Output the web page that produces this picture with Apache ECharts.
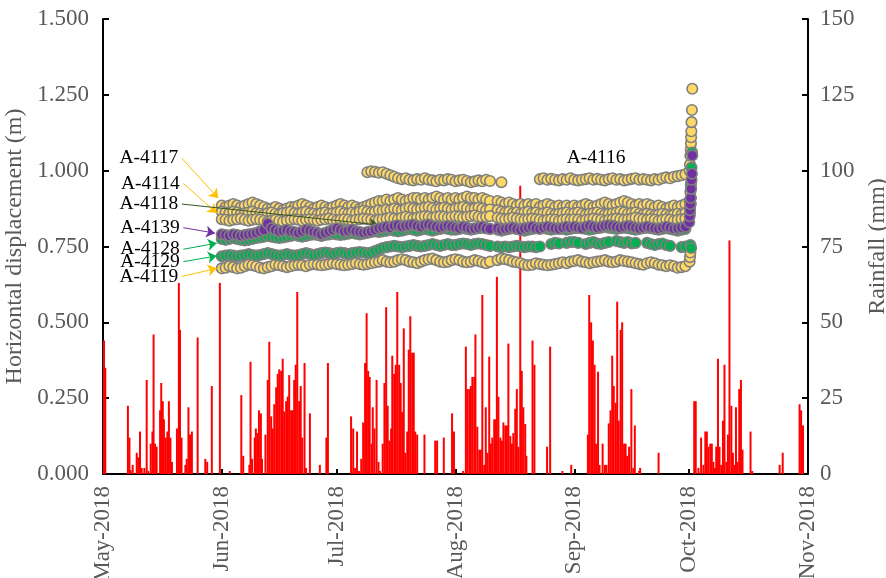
<!DOCTYPE html>
<html><head><meta charset="utf-8">
<script src="https://cdn.jsdelivr.net/npm/echarts@6/dist/echarts.min.js"></script>
<style>html,body{margin:0;padding:0;background:#fff}#c{width:886px;height:578px}</style>
</head><body><div id="c"></div>
<script>
// ---------- axis labels (x = days since 1 May 2018) ----------
const tickDays = [0, 31, 61, 92, 123, 153, 184];
const tickLabels = ['May-2018','Jun-2018','Jul-2018','Aug-2018','Sep-2018','Oct-2018','Nov-2018'];
const leftTicks = [0, 0.25, 0.5, 0.75, 1.0, 1.25, 1.5];
const rightTicks = [0, 25, 50, 75, 100, 125, 150];

// ---------- rainfall (day offset from 1 May 2018, mm) ----------
const rainDay = [0.26,0.6,6.5,6.9,7.2,7.75,8.8,9.2,9.66,10.1,10.8,11.4,11.8,12.45,12.9,13.2,13.6,14.0,14.9,15.2,15.6,15.9,16.4,16.8,17.2,17.6,18.0,19.3,19.8,20.1,20.5,21.5,21.85,22.3,22.7,23.2,24.7,26.7,27.2,28.4,30.5,
33.1,36.1,36.6,38.2,38.5,38.9,39.6,39.9,40.3,40.7,41.2,41.5,42.4,43.0,43.4,43.9,44.3,44.7,45.2,45.6,46.0,46.5,46.9,47.3,47.8,48.2,48.6,49.1,49.5,49.9,50.3,50.7,51.2,51.6,52.0,52.6,53.0,54.0,56.6,58.3,58.7,
64.75,65.3,65.8,66.3,66.8,67.4,67.9,68.4,68.8,69.2,69.6,70.1,70.4,70.85,71.4,71.9,72.3,73.0,73.45,73.9,74.3,74.75,75.2,75.5,76.0,76.4,76.8,77.3,77.7,78.1,78.5,78.9,79.4,79.8,80.2,80.7,81.1,81.5,82.0,83.9,86.7,87.2,88.95,91.1,91.6,
94.0,94.7,95.1,95.6,96.0,96.4,96.9,97.2,97.7,98.2,98.6,99.0,99.5,99.9,100.3,100.8,101.2,101.6,102.1,102.4,102.8,103.2,103.7,104.1,104.5,105.0,105.4,105.8,106.3,106.7,107.1,107.6,108.0,108.4,108.9,109.3,109.7,110.2,110.5,112.1,112.6,115.9,116.7,119.9,122.2,
126.55,126.9,127.4,127.85,128.3,128.7,129.2,129.6,130.4,131.0,131.4,132.0,132.45,132.9,133.3,133.8,134.2,134.6,135.1,135.5,136.0,136.4,136.8,137.3,137.9,138.4,138.8,139.9,140.2,145.0,
154.3,154.7,155.4,156.1,156.7,157.2,157.6,158.0,158.5,158.9,159.3,159.7,160.05,160.5,160.9,161.35,161.8,162.2,162.7,163.1,163.5,164.0,164.4,164.8,165.2,165.6,166.05,166.5,166.9,169.0,169.45,176.6,177.4,181.8,182.2,182.7];
const rainMm = [44,35,22.5,12,1.3,3,7,5.5,14,2,2,31,1,10,14,46,10,9,21,30,24,18,12,14,24,12,4,15,63,47.5,12,3,5,22,13,14,45,5,4,29,63,
1,26,6,3,37,5,12,15,13.5,21,20,5,13,31,43.6,19,15,23,28.6,33,34.5,34,38,20.6,24,25.5,32.6,21,21,31,36,60,24,29,12,36.6,2,20,3,12,36.6,
19,15,2,14,1,5,17,36.6,53,34,32,10,22,15,31,4,1,10,30,55,22.5,11,15,39,33,36,60,36,30,20.5,48,7,14,41,52,40,40,14,13,13,11,11,12,20,14,
1,42,28,28,29,32,32,46,15.6,8,8,59,3,22,7,38.7,10,12,18,18,65,25.5,12,11,17,16,16,43,12.5,10,13.5,21.5,28,9,95,34,22,16.5,6,44,36,9,42,1,3,
13,59,50,44,36,10,33.7,3,10,3,3,16.7,21,39,29,23.5,56.8,17.6,47.5,50,10,10,6,9,28,2,16,1,2,7,
24,24,2,12,3,14,14,9,10,10,4,2,9,38,9,3,17.6,36,4,13,77,22.5,7,3,22,4,28,31,8,14,1,3,7,23,21,16];

// ---------- displacement: daily readings 1 Jun (day 31) .. 30 Sep (day 152) ----------
const firstObsDay = 31;
const d4116 = [
null,null,null,null,null,null,null,null,null,null,null,null,null,null,null,null,null,null,null,null,null,null,null,null,null,null,null,null,null,null,
null,null,null,null,null,null,null,null,0.995,0.998,0.996,0.993,0.995,0.99,0.985,0.98,0.975,0.972,0.975,0.97,0.968,0.972,0.97,0.975,0.97,0.968,0.965,0.97,0.968,0.972,0.97,
0.965,0.968,0.97,0.966,0.962,0.965,0.968,0.965,0.97,0.966,null,null,0.962,null,null,null,null,null,null,null,null,null,0.972,0.975,0.97,0.973,0.97,0.968,0.972,0.97,0.975,
0.97,0.968,0.97,0.972,0.975,0.97,0.973,0.97,0.968,0.972,0.975,0.97,0.972,0.968,0.97,0.973,0.975,0.97,0.972,0.97,0.968,0.972,0.97,0.975,0.978,0.975,0.98,0.982,0.985,0.988];
const d4117 = [
0.885,0.88,0.885,0.89,0.885,0.88,0.885,0.89,0.895,0.89,0.885,0.88,0.875,0.875,0.88,0.875,0.87,0.875,0.88,0.88,0.885,0.89,0.885,0.88,0.875,0.88,0.885,0.88,0.875,0.88,
0.885,0.89,0.885,0.88,0.885,0.88,0.875,0.88,0.885,0.89,0.895,0.9,0.9,0.905,0.9,0.905,0.91,0.905,0.9,0.905,0.91,0.91,0.905,0.91,0.905,0.91,0.915,0.91,0.905,0.91,0.905,
0.91,0.905,0.91,0.915,0.91,0.91,0.905,0.91,0.905,0.9,null,0.9,0.895,0.89,0.895,0.89,0.885,0.89,0.885,0.89,0.885,0.89,0.88,0.885,0.89,0.885,0.88,0.885,0.88,0.885,0.88,
0.885,0.88,0.885,0.89,0.885,0.88,0.885,0.89,0.895,0.89,0.885,0.89,0.895,0.9,0.895,0.89,0.885,0.89,0.885,0.89,0.885,0.88,0.885,0.88,0.875,0.88,0.885,0.88,0.885,0.89];
const d4114 = [
0.865,0.862,0.86,0.865,0.862,0.858,0.86,0.862,0.865,0.86,0.858,0.855,0.86,0.862,0.858,0.855,0.86,0.862,0.865,0.86,0.858,0.862,0.865,0.86,0.858,0.855,0.86,0.862,0.858,0.86,
0.862,0.865,0.86,0.858,0.862,0.86,0.865,0.868,0.865,0.862,0.865,0.87,0.868,0.872,0.87,0.875,0.872,0.87,0.875,0.878,0.875,0.872,0.875,0.878,0.88,0.876,0.872,0.875,0.878,0.875,0.872,
0.875,0.878,0.88,0.876,0.872,0.875,0.878,0.875,0.87,0.872,null,0.87,0.865,0.862,0.865,0.86,0.862,0.858,0.862,0.865,0.86,0.862,0.858,0.86,0.862,0.858,0.855,0.858,0.86,0.862,0.858,
0.86,0.862,0.858,0.855,0.858,0.86,0.862,0.858,0.855,0.858,0.86,0.862,0.865,0.862,0.858,0.86,0.862,0.858,0.855,0.858,0.855,0.852,0.855,0.858,0.855,0.852,0.855,0.858,0.855,0.86];
const d4118 = [
0.84,0.838,0.835,0.838,0.84,0.842,0.838,0.835,0.838,0.84,0.838,0.835,0.832,0.835,0.838,0.835,0.832,0.835,0.838,0.84,0.838,0.835,0.838,0.84,0.838,0.835,0.838,0.84,0.842,0.838,
0.835,0.838,0.84,0.838,0.835,0.838,0.84,0.842,0.84,0.838,0.835,0.838,0.84,0.842,0.845,0.842,0.84,0.845,0.848,0.845,0.842,0.845,0.848,0.85,0.848,0.845,0.848,0.85,0.848,0.845,0.848,
0.85,0.848,0.845,0.848,0.85,0.852,0.848,0.845,0.848,0.85,null,0.845,0.842,0.84,0.842,0.845,0.842,0.84,0.838,0.84,0.842,0.84,0.838,0.835,0.838,0.84,0.838,0.835,0.838,0.84,0.838,
0.84,0.838,0.835,0.838,0.84,0.842,0.84,0.838,0.835,0.838,0.84,0.842,0.84,0.838,0.84,0.842,0.845,0.842,0.84,0.838,0.84,0.838,0.835,0.838,0.84,0.838,0.835,0.838,0.84,0.842];
const d4139 = [
0.79,0.788,0.786,0.79,0.788,0.785,0.788,0.79,0.792,0.795,0.80,0.805,0.825,0.81,0.805,0.80,0.802,0.805,0.80,0.798,0.795,0.80,0.805,0.802,0.798,0.795,0.79,0.795,0.80,0.805,
0.81,0.805,0.80,0.802,0.805,0.80,0.798,0.795,0.798,0.80,0.805,0.81,0.812,0.815,0.812,0.818,0.82,0.815,0.818,0.82,0.822,0.818,0.815,0.82,0.822,0.818,0.815,0.812,0.815,0.818,0.815,
0.812,0.81,0.815,0.812,0.808,0.81,0.812,0.815,0.81,0.808,null,0.81,0.805,0.808,0.81,0.812,0.808,0.805,0.81,0.812,0.815,0.81,0.808,0.812,0.815,0.812,0.81,0.808,0.812,0.815,0.812,
0.815,0.812,0.81,0.815,0.818,0.815,0.812,0.815,0.818,0.82,0.818,0.815,0.812,0.815,0.818,0.815,0.812,0.81,0.812,0.815,0.812,0.81,0.808,0.812,0.815,0.812,0.808,0.81,0.812,0.815];
const d4128 = [
0.775,0.772,0.775,0.778,0.775,0.772,0.77,0.772,0.775,0.778,0.78,0.782,0.785,0.782,0.78,0.778,0.78,0.782,0.785,0.788,0.785,0.782,0.785,0.788,0.79,0.788,0.785,0.788,0.79,0.792,
0.79,0.788,0.79,0.792,0.795,0.792,0.79,0.792,0.795,0.798,0.8,0.798,0.8,0.802,0.805,0.802,0.8,0.802,0.805,0.808,0.805,0.802,0.805,0.808,0.805,0.802,0.805,0.808,0.81,0.808,0.805,
0.805,0.808,0.81,0.808,0.805,0.808,0.81,0.812,0.81,0.808,null,0.805,0.802,0.805,0.808,0.81,0.808,0.805,0.802,0.805,0.808,0.81,0.812,0.81,0.808,0.805,0.808,0.81,0.808,0.805,0.808,
0.81,0.812,0.81,0.808,0.805,0.808,0.81,0.812,0.815,0.812,0.81,0.808,0.81,0.812,0.81,0.808,0.805,0.808,0.81,0.812,0.81,0.808,0.805,0.808,0.81,0.808,0.805,0.802,0.805,0.808];
const d4129 = [
0.718,0.72,0.722,0.72,0.718,0.72,0.722,0.725,0.722,0.72,0.722,0.725,0.728,0.725,0.722,0.72,0.722,0.725,0.722,0.72,0.722,0.725,0.728,0.725,0.722,0.725,0.728,0.73,0.728,0.725,
0.728,0.73,0.728,0.725,0.728,0.73,0.732,0.73,0.728,0.73,0.735,0.74,0.745,0.748,0.75,0.752,0.75,0.748,0.75,0.752,0.755,0.752,0.75,0.752,0.755,0.758,0.755,0.752,0.755,0.758,0.755,
0.755,0.758,0.76,0.758,0.755,0.758,0.76,0.758,0.755,0.752,null,0.75,0.748,0.75,0.748,0.75,0.752,0.75,0.748,0.75,0.75,0.748,0.75,null,null,0.758,0.762,0.76,null,0.762,0.765,
0.765,0.762,null,0.758,0.762,0.765,0.76,0.758,0.762,0.765,null,0.768,0.765,0.762,0.765,0.76,0.762,null,null,0.762,0.758,0.755,0.758,0.76,0.755,0.752,null,null,0.748,0.75];
const d4119 = [
0.678,0.68,0.685,0.682,0.678,0.68,0.685,0.69,0.688,0.685,0.68,0.678,0.682,0.685,0.69,0.688,0.685,0.682,0.685,0.688,0.69,0.688,0.685,0.69,0.692,0.69,0.688,0.69,0.692,0.695,
0.692,0.69,0.688,0.69,0.692,0.695,0.692,0.69,0.692,0.695,0.698,0.70,0.705,0.70,0.698,0.70,0.705,0.708,0.705,0.70,0.698,0.695,0.70,0.705,0.708,0.71,0.705,0.70,0.698,0.70,0.705,
0.708,0.705,0.70,0.698,0.70,0.705,0.702,0.698,0.695,0.70,null,0.705,0.71,0.708,0.705,0.70,0.698,0.695,0.69,0.688,0.69,0.695,0.692,0.69,0.688,0.69,0.692,0.695,0.698,0.695,0.70,
0.702,0.705,0.70,0.698,0.695,0.698,0.70,0.702,0.705,0.70,0.698,0.70,0.705,0.702,0.70,0.698,0.695,0.692,0.69,0.695,0.698,0.695,0.69,0.688,0.685,0.688,0.685,0.68,0.682,0.685];

// final readings on 1-2 Oct (day offset, value)
const tail4116Day = [153.1,153.2,153.3,153.4,153.45,153.5,153.55,153.6,153.7,153.8];
const tail4116Val = [1.0,1.02,1.05,1.07,1.09,1.11,1.13,1.16,1.2,1.27];
const tail4117Day = [153.1,153.3,153.5];      const tail4117Val = [0.9,0.93,0.96];
const tail4114Day = [153.2,153.4];            const tail4114Val = [0.88,0.91];
const tail4118Day = [153.2,153.4];            const tail4118Val = [0.86,0.89];
const tail4139Day = [153.0,153.1,153.2,153.3,153.4,153.5,153.6,153.7,153.8];
const tail4139Val = [0.83,0.85,0.87,0.89,0.91,0.94,0.97,0.99,1.05];
const tail4128Day = [153.2,153.4,153.6,153.75]; const tail4128Val = [0.88,0.95,1.01,1.06];
const tail4129Day = [153.3,153.5];            const tail4129Val = [0.755,0.745];
const tail4119Day = [153.1,153.2,153.3];      const tail4119Val = [0.70,0.715,0.73];

// ---------- annotation arrows (label start -> target), in data units ----------
const arrowStartDay = {A4117:20.55, A4114:20.97, A4118:20.55, A4139:20.97, A4128:20.97, A4129:20.97, A4119:20.55};
const arrowStartVal = {A4117:1.041, A4114:0.958, A4118:0.890, A4139:0.812, A4128:0.741, A4129:0.700, A4119:0.651};
const arrowEndDay   = {A4117:30.1,  A4114:29.7,  A4118:71.9,  A4139:29.24, A4128:29.7,  A4129:29.7,  A4119:29.7};
const arrowEndVal   = {A4117:0.909, A4114:0.860, A4118:0.821, A4139:0.794, A4128:0.761, A4129:0.719, A4119:0.678};
const label4116Day = 128.7, label4116Val = 1.042;

// ---------- build ----------
const FONT = '"Liberation Serif","Times New Roman",serif';
const YEL = '#FFD966', PUR = '#7030A0', GRN = '#00B050', EDGE = '#7F7F7F';
const TICK_FS = 23, NAME_FS = 24, ANN_FS = 19.5;

function pts(vals, tD, tV) {
  const out = [];
  vals.forEach((v, i) => { if (v !== null) out.push([firstObsDay + i, v]); });
  tD.forEach((d, i) => out.push([d, tV[i]]));
  return out;
}
function arrow(key, color) {
  return {
    silent: true, animation: false,
    symbol: ['none', 'arrow'], symbolSize: 9,
    lineStyle: { color: color, width: 1, type: 'solid' },
    label: { show: false },
    data: [[{ coord: [arrowStartDay[key], arrowStartVal[key]] }, { coord: [arrowEndDay[key], arrowEndVal[key]] }]]
  };
}
function tag(day, val, name, pos) {
  return {
    silent: true, animation: false, symbol: 'circle', symbolSize: 1,
    itemStyle: { color: 'rgba(0,0,0,0)' },
    label: { show: true, position: pos, distance: 3, formatter: name, color: '#000', fontFamily: FONT, fontSize: ANN_FS },
    data: [{ coord: [day, val] }]
  };
}
function scatter(name, data, fill, key, arrowColor, z) {
  const s = {
    name: name, type: 'scatter', data: data, symbolSize: 10.5, z: z,
    itemStyle: { color: fill, borderColor: EDGE, borderWidth: 1.6, opacity: 1 }
  };
  if (key) {
    s.markLine = arrow(key, arrowColor);
    s.markPoint = tag(arrowStartDay[key], arrowStartVal[key], name, 'left');
  }
  return s;
}

const series = [
  { name: 'Rainfall', type: 'bar', yAxisIndex: 1, barWidth: 2, z: 1,
    itemStyle: { color: '#FF0000' },
    data: rainDay.map((d, i) => [d, rainMm[i]]) },
  scatter('A-4116', pts(d4116, tail4116Day, tail4116Val), YEL, null, null, 3),
  scatter('A-4117', pts(d4117, tail4117Day, tail4117Val), YEL, 'A4117', '#FFC000', 3),
  scatter('A-4114', pts(d4114, tail4114Day, tail4114Val), YEL, 'A4114', '#FFC000', 3),
  scatter('A-4118', pts(d4118, tail4118Day, tail4118Val), YEL, 'A4118', '#375623', 3),
  scatter('A-4119', pts(d4119, tail4119Day, tail4119Val), YEL, 'A4119', '#FFC000', 3),
  scatter('A-4128', pts(d4128, tail4128Day, tail4128Val), GRN, 'A4128', GRN, 4),
  scatter('A-4129', pts(d4129, tail4129Day, tail4129Val), GRN, 'A4129', GRN, 4),
  scatter('A-4139', pts(d4139, tail4139Day, tail4139Val), PUR, 'A4139', PUR, 5)
];
series[1].markPoint = tag(label4116Day, label4116Val, 'A-4116', 'inside');

const axisLineStyle = { show: true, onZero: false, lineStyle: { color: '#000', width: 2 } };
const chart = echarts.init(document.getElementById('c'), null, { renderer: 'canvas' });
chart.setOption({
  animation: false,
  backgroundColor: '#fff',
  grid: { left: 103, right: 78, top: 19, bottom: 104, containLabel: false, outerBoundsMode: 'none' },
  xAxis: {
    type: 'value', min: tickDays[0], max: tickDays[tickDays.length - 1],
    axisLine: axisLineStyle,
    axisTick: { show: true, inside: true, length: 5, customValues: tickDays, lineStyle: { color: '#000', width: 2 } },
    axisLabel: { customValues: tickDays, rotate: 90, margin: 12, color: '#595959', fontFamily: FONT, fontSize: TICK_FS,
      formatter: v => { const i = tickDays.indexOf(v); return i >= 0 ? tickLabels[i] : ''; } },
    splitLine: { show: false }
  },
  yAxis: [
    { type: 'value', min: leftTicks[0], max: leftTicks[leftTicks.length - 1], interval: 0.25,
      name: 'Horizontal displacement (m)', nameLocation: 'middle', nameGap: 71, nameRotate: 90,
      nameTextStyle: { color: '#595959', fontFamily: FONT, fontSize: NAME_FS },
      axisLine: axisLineStyle,
      axisTick: { show: true, inside: true, length: 6, lineStyle: { color: '#000', width: 2 } },
      axisLabel: { color: '#595959', fontFamily: FONT, fontSize: TICK_FS, margin: 14, formatter: v => v.toFixed(3) },
      splitLine: { show: false } },
    { type: 'value', min: rightTicks[0], max: rightTicks[rightTicks.length - 1], interval: 25, position: 'right',
      name: 'Rainfall (mm)', nameLocation: 'middle', nameGap: 55, nameRotate: 90,
      nameTextStyle: { color: '#595959', fontFamily: FONT, fontSize: NAME_FS },
      axisLine: axisLineStyle,
      axisTick: { show: true, inside: true, length: 6, lineStyle: { color: '#000', width: 2 } },
      axisLabel: { color: '#595959', fontFamily: FONT, fontSize: TICK_FS, margin: 12 },
      splitLine: { show: false } }
  ],
  series: series
});
</script></body></html>
